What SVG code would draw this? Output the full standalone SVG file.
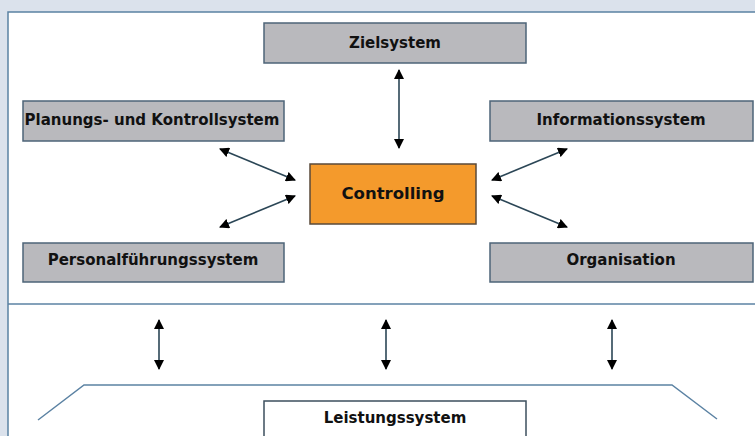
<svg xmlns="http://www.w3.org/2000/svg" width="755" height="436" viewBox="0 0 755 436">
<defs>
<marker id="ah" viewBox="0 0 10 10" refX="9" refY="5" markerWidth="10" markerHeight="10" markerUnits="userSpaceOnUse" orient="auto-start-reverse">
<path d="M0,0 L10,5 L0,10 z" fill="#000"/>
</marker>
<style>
.box{fill:#b9b9bd;stroke:#4d6478;stroke-width:1.5}
.lbl{font-family:"DejaVu Sans",Verdana,sans-serif;font-weight:bold;font-size:15px;fill:#111;text-anchor:middle;dominant-baseline:central}
.arr{stroke:#2b4656;stroke-width:1.6;fill:none;marker-start:url(#ah);marker-end:url(#ah)}
.frame{stroke:#5b82a3;stroke-width:1.5;fill:none}
</style>
</defs>
<rect x="0" y="0" width="755" height="436" fill="#dbe2ec"/>
<rect x="8" y="12" width="760" height="440" fill="#ffffff" stroke="#5b82a3" stroke-width="1.5"/>
<line class="frame" x1="8" y1="304" x2="755" y2="304"/>
<polyline class="frame" points="38,420 84,385 672,385 717,419"/>
<g id="zielsystem">
<rect class="box" x="264" y="23" width="262" height="40"/>
<text class="lbl" x="395" y="43">Zielsystem</text>
</g>
<g id="planung">
<rect class="box" x="23" y="101" width="261" height="40"/>
<text class="lbl" x="152" y="120">Planungs- und Kontrollsystem</text>
</g>
<g id="information">
<rect class="box" x="490" y="101" width="263" height="40"/>
<text class="lbl" x="621" y="120">Informationssystem</text>
</g>
<g id="controlling">
<rect x="310" y="164" width="166" height="60" fill="#f49a2c" stroke="#5a4a3a" stroke-width="1.5"/>
<text class="lbl" x="393" y="193" style="font-size:16.5px">Controlling</text>
</g>
<g id="personal">
<rect class="box" x="23" y="243" width="261" height="39"/>
<text class="lbl" x="153" y="260">Personalführungssystem</text>
</g>
<g id="organisation">
<rect class="box" x="490" y="243" width="263" height="39"/>
<text class="lbl" x="621" y="260">Organisation</text>
</g>
<g id="leistung">
<rect x="264" y="401" width="262" height="50" fill="#ffffff" stroke="#3d4f5e" stroke-width="1.5"/>
<text class="lbl" x="395" y="418">Leistungssystem</text>
</g>
<g id="connectors">
<line class="arr" x1="399" y1="70" x2="399" y2="148"/>
<line class="arr" x1="220" y1="149" x2="295" y2="180"/>
<line class="arr" x1="220" y1="227" x2="295" y2="196"/>
<line class="arr" x1="492" y1="180" x2="567" y2="149"/>
<line class="arr" x1="492" y1="196" x2="567" y2="227"/>
<line class="arr" x1="159" y1="320" x2="159" y2="369"/>
<line class="arr" x1="386" y1="320" x2="386" y2="369"/>
<line class="arr" x1="612" y1="320" x2="612" y2="369"/>
</g>
</svg>
